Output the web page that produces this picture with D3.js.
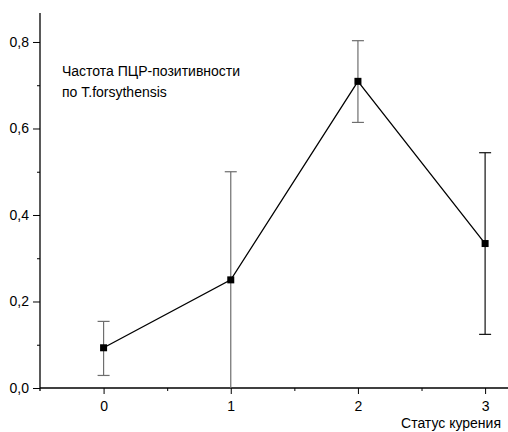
<!DOCTYPE html>
<html>
<head>
<meta charset="utf-8">
<script src="https://cdn.jsdelivr.net/npm/d3@7"></script>
<style>
  body { margin: 0; background: #fff; }
  text { font-family: "Liberation Sans", Arial, sans-serif; }
</style>
</head>
<body>
<script>
// smoking status vs PCR positive frequency
var smokeStatus = [0, 1, 2, 3];
var freq = [0.093, 0.25, 0.709, 0.334];
var errLow = [0.029, 0.0, 0.614, 0.124];
var errHigh = [0.154, 0.5, 0.803, 0.544];
var yTicks = [0, 0.2, 0.4, 0.6, 0.8];
var yMinor = [0.1, 0.3, 0.5, 0.7];
var xMinor = [0.5, 1.5, 2.5];

var w = 508, h = 432;
var svg = d3.select("body").append("svg")
    .attr("width", w)
    .attr("height", h);

var x = d3.scaleLinear().domain([-0.5, 3.18]).range([40, 508]);
var y = d3.scaleLinear().domain([0, 0.867]).range([388, 13]);

// axes
svg.append("g")
    .attr("transform", "translate(0,388)")
    .call(d3.axisBottom(x).tickValues(smokeStatus).tickSize(6).tickPadding(7).tickFormat(d3.format("d")))
    .call(function (g) {
        g.select(".domain").attr("stroke-width", 1.3).attr("d", "M40,0H508");
        g.selectAll("text").attr("font-size", 14).attr("fill", "#000");
    });
svg.append("g")
    .attr("transform", "translate(0,388)")
    .call(d3.axisBottom(x).tickValues(xMinor).tickSize(3).tickFormat(""))
    .call(function (g) { g.select(".domain").remove(); });

svg.append("g")
    .attr("transform", "translate(40,0)")
    .call(d3.axisLeft(y).tickValues(yTicks).tickSize(7).tickPadding(4)
        .tickFormat(function (d) { return d3.format(".1f")(d).replace(".", ","); }))
    .call(function (g) {
        g.select(".domain").attr("stroke-width", 1.3).attr("d", "M0,13V391");
        g.selectAll("text").attr("font-size", 14).attr("fill", "#000");
    });
svg.append("g")
    .attr("transform", "translate(40,0)")
    .call(d3.axisLeft(y).tickValues(yMinor).tickSize(3).tickFormat(""))
    .call(function (g) { g.select(".domain").remove(); });

// error bars
var bars = svg.append("g");
smokeStatus.forEach(function (s, i) {
    var col = i < 3 ? "#6e6e6e" : "#111";
    bars.append("line")
        .attr("x1", x(s)).attr("x2", x(s))
        .attr("y1", y(errLow[i])).attr("y2", y(errHigh[i]))
        .attr("stroke", col).attr("stroke-width", 1.2);
    [errLow[i], errHigh[i]].forEach(function (v) {
        if (v <= 0) return;
        bars.append("line")
            .attr("x1", x(s) - 6).attr("x2", x(s) + 6)
            .attr("y1", y(v)).attr("y2", y(v))
            .attr("stroke", col).attr("stroke-width", 1.2);
    });
});

// line
var line = d3.line()
    .x(function (d, i) { return x(smokeStatus[i]); })
    .y(function (d) { return y(d); });
svg.append("path")
    .datum(freq)
    .attr("d", line)
    .attr("fill", "none")
    .attr("stroke", "#000")
    .attr("stroke-width", 1.3);

svg.selectAll("rect.pt")
    .data(freq)
    .enter()
    .append("rect")
    .attr("class", "pt")
    .attr("x", function (d, i) { return x(smokeStatus[i]) - 3.5; })
    .attr("y", function (d) { return y(d) - 3.5; })
    .attr("width", 7)
    .attr("height", 7)
    .attr("fill", "#000");

// labels
svg.append("text")
    .attr("x", 62).attr("y", 76)
    .attr("font-size", 14)
    .text("Частота ПЦР-позитивности");
svg.append("text")
    .attr("x", 62).attr("y", 97)
    .attr("font-size", 14)
    .text("по T.forsythensis");
svg.append("text")
    .attr("x", 501).attr("y", 428)
    .attr("text-anchor", "end")
    .attr("font-size", 14)
    .text("Статус курения");
</script>
</body>
</html>
